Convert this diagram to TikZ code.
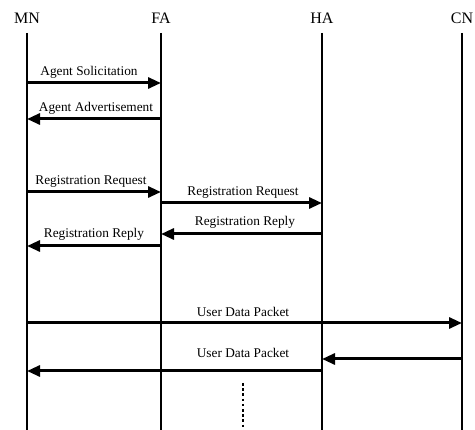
\documentclass[tikz,border=0pt]{standalone}
\usepackage{fontspec}
\setmainfont{Liberation Serif}
\usetikzlibrary{arrows.meta}
\begin{document}
\begin{tikzpicture}[x=1pt,y=-1pt,
  entity/.style={font=\fontsize{16}{18}\selectfont, inner sep=0pt},
  lifeline/.style={line width=1.6pt},
  msg/.style={line width=3pt, -{Triangle[length=13pt,width=11pt]}},
  lbl/.style={font=\fontsize{13.3}{15}\selectfont, inner sep=0pt, anchor=base},
  dots/.style={line width=2.8pt, dash pattern=on 2.6pt off 2.6pt}]
\useasboundingbox (0,0) rectangle (475,430);

% entities and their lifelines
\node[entity] (mn) at (27,18) {MN};
\node[entity] (fa) at (161,18) {FA};
\node[entity] (ha) at (322,18) {HA};
\node[entity] (cn) at (462,18) {CN};
\foreach \e/\x in {mn/27,fa/161,ha/322,cn/462}{
  \coordinate (\e top) at (\x,33);
  \coordinate (\e bot) at (\x,430);
  \draw[lifeline] (\e top) -- (\e bot);
}

% message end points on the lifelines
\foreach \e/\x in {mn/27,fa/161,ha/322,cn/462}{
  \foreach \n/\y in {a/83,b/119,c/192,d/203,e/234,f/246,g/323,h/359,i/371}{
    \coordinate (\e\n) at (\x,\y);
  }
}

% agent discovery
\draw[msg] (mna) -- (faa);
\node[lbl] at (89,76) {Agent Solicitation};
\draw[msg] (fab) -- (mnb);
\node[lbl] at (96,112) {Agent Advertisement};

% registration
\draw[msg] (mnc) -- (fac);
\node[lbl] at (91,185) {Registration Request};
\draw[msg] (fad) -- (had);
\node[lbl] at (243,196) {Registration Request};
\draw[msg] (hae) -- (fae);
\node[lbl] at (245,226) {Registration Reply};
\draw[msg] (faf) -- (mnf);
\node[lbl] at (94,238) {Registration Reply};

% user data
\draw[msg] (mng) -- (cng);
\node[lbl] at (243,317) {User Data Packet};
\draw[msg] (cnh) -- (hah);
\node[lbl] at (243,358) {User Data Packet};
\draw[msg] (hai) -- (mni);

% continuation
\coordinate (more) at (243,383);
\coordinate (moreend) at (243,430);
\draw[dots] (more) -- (moreend);
\end{tikzpicture}
\end{document}
